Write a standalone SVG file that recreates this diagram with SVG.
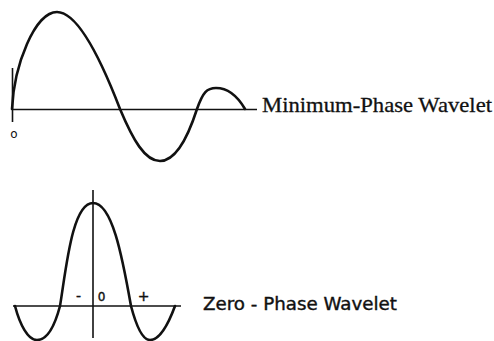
<svg xmlns="http://www.w3.org/2000/svg" width="494" height="341" viewBox="0 0 494 341">
<style>
.axis{stroke:#111;stroke-width:1.6;fill:none}
.wave{stroke:#111;stroke-width:2.6;fill:none;stroke-linejoin:round;stroke-linecap:round}
.serif{font-family:"Liberation Serif","Times New Roman",serif;fill:#111;stroke:#111;stroke-width:0.3}
.sans{font-family:"DejaVu Sans",Verdana,sans-serif;fill:#111}
.lbl{stroke:#111;stroke-width:0.4}
</style>
<rect width="494" height="341" fill="#fff"/>
<g id="minimum-phase">
<line class="axis" x1="12" y1="109.5" x2="257" y2="109.5"/>
<line class="axis" x1="12.5" y1="68" x2="12.5" y2="122"/>
<path class="wave" d="M12,109 C14,65 35,12 57,12 C80,12 105,70 120,109 C133,140 145,161 160,161 C175,161 187,140 197,109 C203,92 207,88 216,88 C228,88 238,97 245,109"/>
<text class="sans" x="14" y="138" font-size="12" text-anchor="middle">o</text>
<text class="serif" x="262" y="112" font-size="22" textLength="230" lengthAdjust="spacingAndGlyphs">Minimum-Phase Wavelet</text>
</g>
<g id="zero-phase">
<line class="axis" x1="13" y1="306" x2="181" y2="306"/>
<line class="axis" x1="93" y1="190" x2="93" y2="338"/>
<path class="wave" d="M15,306 C20,325 28,340 37,340 C48,340 55,325 60,306 C66,270 72,203 93,203 C112,203 122,255 131,306 C136,325 142,340 150,340 C160,340 168,325 175,306"/>
<text class="sans lbl" x="78.5" y="301" font-size="14" text-anchor="middle">-</text>
<text class="sans lbl" x="101.5" y="300.5" font-size="12" text-anchor="middle">0</text>
<text class="sans lbl" x="143.5" y="301" font-size="14" text-anchor="middle">+</text>
<text class="sans lbl" x="203" y="310" font-size="18" textLength="194" lengthAdjust="spacingAndGlyphs">Zero - Phase Wavelet</text>
</g>
<g id="connectors"/>
</svg>
